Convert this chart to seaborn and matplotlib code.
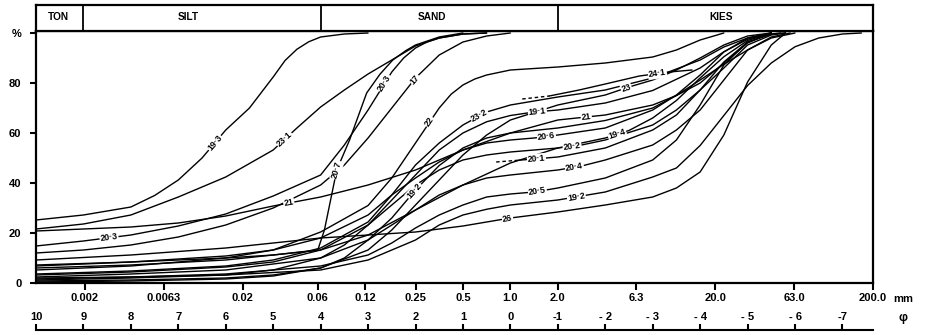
import numpy as np
import pandas as pd
import matplotlib
matplotlib.use("Agg")
import matplotlib.pyplot as plt
import seaborn as sns

# ---- grain-size distribution curves: size in phi units, cumulative percent ----
phi_19_3 = [10, 9, 8, 7.5, 7, 6.5, 6, 5.5, 5, 4.75, 4.5, 4.25, 4, 3.5, 3]
pct_19_3 = [25.2, 27.2, 30.4, 35, 41.2, 50, 61.2, 70, 82.4, 89, 93.5, 96.5, 98.4, 99.6, 100]

phi_23_1 = [10, 9, 8, 7, 6, 5, 4.5, 4, 3.5, 3, 2.5, 2, 1.5, 1, 0.5]
pct_23_1 = [21.6, 23.6, 27.2, 34.4, 42.4, 53.2, 62, 70.4, 77.2, 83.6, 89.2, 94.8, 98, 99.6, 100]

phi_21 = [10, 9, 8, 7, 6, 5, 4, 3, 2, 1, 0, -1, -2, -3, -3.5, -4, -4.5, -5, -5.5, -6]
pct_21 = [20.8, 21.6, 22.4, 24, 26.8, 30.8, 34.4, 39.2, 45.2, 53.2, 60, 65.2, 67.2, 71.2, 75, 81.2, 87.5, 93.2, 98, 100]

phi_20_3 = [10, 9, 8, 7, 6, 5, 4, 3.5, 3, 2.5, 2.25, 2, 1.75, 1.5, 1, 0.5]
pct_20_3 = [14.8, 16.8, 19.2, 22.8, 27.6, 34.8, 43.2, 55.2, 69.2, 84.4, 90, 94, 96.5, 98, 99.6, 100]

phi_17 = [10, 9, 8, 7, 6, 5, 4, 3.5, 3, 2.5, 2, 1.5, 1, 0.5, 0]
pct_17 = [12, 13.2, 15.2, 18.4, 23.2, 30, 39.2, 47.2, 58, 70, 82, 91.2, 96.4, 98.8, 100]

phi_20_7 = [10, 8, 6, 5, 4.06, 3.92, 3.66, 3.39, 3.03, 2.75, 2.48, 2.2, 2, 1.5, 1]
pct_20_7 = [6.8, 8.4, 10, 11.2, 13.2, 21.2, 45.2, 57.2, 76, 83.5, 89.2, 93, 95.2, 98.4, 100]

phi_22 = [10, 8, 6, 5, 4, 3, 2.5, 2, 1.5, 1.25, 1, 0.75, 0.5, 0, -1, -2, -3, -3.5, -4, -4.5]
pct_22 = [5.2, 6.8, 10, 13.2, 20.4, 31, 42, 56, 70, 75.5, 79.2, 81.6, 83.2, 85.2, 86.4, 88, 90.4, 93.2, 97.2, 100]

phi_23_2 = [10, 8, 6, 5, 4, 3, 2.5, 2, 1.5, 1, 0.5, 0, -1, -2, -3, -4, -4.5, -5, -5.5]
pct_23_2 = [3.6, 4.8, 6.8, 9.2, 14, 24.4, 35.2, 47.2, 56, 63.2, 68.4, 71.2, 74.4, 77.2, 82, 89.2, 94.4, 98, 100]

phi_19_1 = [10, 8, 6, 5, 4, 3.5, 3, 2.5, 2, 1.5, 1, 0.5, 0, -0.5, -1, -2, -3, -4, -4.5, -5, -5.5]
pct_19_1 = [1.2, 2, 3.2, 5.2, 10, 15.2, 23.2, 33.2, 43.2, 53.2, 60, 64.5, 67, 68.4, 69.2, 72, 77, 86, 92.5, 97.5, 100]

phi_20_6 = [10, 8, 6, 5, 4, 3, 2.5, 2, 1.5, 1, 0.5, 0, -0.5, -1, -2, -3, -3.5, -4, -4.5, -5, -5.5]
pct_20_6 = [7.2, 8.4, 10.8, 13.2, 18, 27.2, 35.2, 42, 48.4, 53.2, 56, 57.2, 58, 59.2, 62, 69.2, 75.2, 83.2, 92.4, 98, 100]

phi_19_4 = [10, 8, 6, 4, 3, 2, 1, 0, -1, -1.5, -2, -2.5, -3, -3.5, -4, -4.5, -5, -5.5]
pct_19_4 = [6, 7.2, 9.2, 13.2, 19.2, 29.2, 39.2, 48, 54, 56, 58, 61, 66, 73, 82, 90.5, 97, 100]

phi_20_2 = [10, 8, 6, 5, 4, 3, 2.5, 2, 1.5, 1, 0.5, 0, -1, -1.5, -2, -3, -3.5, -4, -4.5, -5, -5.5, -5.8]
pct_20_2 = [3.2, 4.4, 6.4, 8.4, 13.2, 23.2, 31.2, 39.2, 45.2, 49.2, 51.2, 52.4, 54, 55.2, 57.2, 63.2, 69.2, 77.2, 86, 95.2, 99.2, 100]

phi_20_1 = [-0.1, -0.5, -1, -2, -3, -3.5, -4, -4.5, -5, -5.5, -5.8]
pct_20_1 = [49, 49.6, 50.4, 54, 61.2, 67.2, 77.2, 88.4, 96.4, 99.6, 100]
phi_20_1_dash = [0.3, -0.1]
pct_20_1_dash = [48.4, 49]

phi_20_4 = [10, 8, 6, 4, 3, 2.5, 2, 1.5, 1, 0.5, 0, -1, -1.5, -2, -3, -3.5, -4, -4.5, -5, -5.5, -5.9]
pct_20_4 = [2.4, 3.6, 5.2, 10, 17.2, 23.2, 29.2, 35.2, 39.2, 42, 43.2, 45.2, 46.8, 49.2, 55.2, 61.2, 69.2, 81.2, 93.2, 98.4, 100]

phi_20_5 = [10, 8, 6, 4, 3, 2.5, 2, 1.5, 1, 0.5, 0, -0.5, -1, -2, -3, -3.5, -4, -4.5, -5, -5.5, -5.7]
pct_20_5 = [1.6, 2.4, 3.6, 6.8, 11.2, 16, 22, 27.2, 31.2, 34.4, 35.6, 36.4, 38, 42, 49.2, 57.2, 71.2, 87.2, 96.4, 99.6, 100]

phi_19_2a = [10, 8, 6, 5, 4, 3.5, 3, 2.5, 2, 1.5, 1, 0.5, 0, -1, -2, -3, -4, -4.5, -5, -5.5]
pct_19_2a = [0.8, 1.2, 2, 3.2, 6, 10, 17.2, 26, 37.2, 47, 54, 58, 60, 62, 65, 70, 80, 88, 96, 100]

phi_19_2b = [10, 8, 6, 4, 3, 2, 1.5, 1, 0.5, 0, -1, -2, -3, -3.5, -4, -4.5, -5, -5.5, -6, -6.5, -7, -7.4]
pct_19_2b = [2, 2.4, 3.2, 5.2, 9.2, 17.2, 23.2, 27.2, 29.5, 31.2, 33.2, 36.4, 42.4, 46, 55, 67, 79, 88, 94.5, 98, 99.6, 100]

phi_26 = [10, 8, 6, 5, 4, 3, 2, 1, 0.5, 0, -1, -2, -3, -3.5, -4, -4.5, -5, -5.5, -5.8]
pct_26 = [9.2, 11.2, 14, 16, 18, 19.2, 20.4, 22.8, 24.4, 26, 28.4, 31.2, 34.4, 38, 44.4, 59.2, 80.4, 95.2, 100]

phi_23 = [10, 8, 6, 5, 4, 3, 2.5, 2, 1.5, 1, 0.5, 0, -1, -2, -2.5, -3, -3.5, -4, -4.5, -5, -5.5]
pct_23 = [0.4, 0.8, 1.6, 2.8, 6, 13.2, 21.2, 31.2, 41.2, 51.2, 59.2, 65.2, 71.2, 75.2, 78.4, 81.2, 85.2, 90, 95.2, 98.8, 100]

phi_24_1 = [-0.82, -1.45, -2, -2.72, -3.35, -3.83]
pct_24_1 = [74.8, 77.2, 79.6, 82.8, 84.4, 85.2]
phi_24_1_dash = [-0.25, -0.82]
pct_24_1_dash = [73.6, 74.8]

# sample id -> (phi, percent)
solid_curves = {
    "19·3": (phi_19_3, pct_19_3), "23·1": (phi_23_1, pct_23_1),
    "21": (phi_21, pct_21), "20·3": (phi_20_3, pct_20_3),
    "17": (phi_17, pct_17), "20·7": (phi_20_7, pct_20_7),
    "22": (phi_22, pct_22), "23·2": (phi_23_2, pct_23_2),
    "19·1": (phi_19_1, pct_19_1), "20·6": (phi_20_6, pct_20_6),
    "19·4": (phi_19_4, pct_19_4), "20·2": (phi_20_2, pct_20_2),
    "20·1": (phi_20_1, pct_20_1), "20·4": (phi_20_4, pct_20_4),
    "20·5": (phi_20_5, pct_20_5), "19·2a": (phi_19_2a, pct_19_2a),
    "19·2b": (phi_19_2b, pct_19_2b), "26": (phi_26, pct_26),
    "23": (phi_23, pct_23), "24·1": (phi_24_1, pct_24_1),
}
dashed_curves = {
    "20·1": (phi_20_1_dash, pct_20_1_dash),
    "24·1": (phi_24_1_dash, pct_24_1_dash),
}

# curve labels: sample, text, phi position
label_sample = ["19·3", "23·1", "20·3", "20·3", "21", "21", "17", "20·7", "22", "23·2",
                "19·1", "20·6", "20·2", "19·4", "20·1", "20·4", "20·5", "19·2b", "19·2a",
                "26", "23", "24·1"]
label_text = ["19·3", "23·1", "20·3", "20·3", "21", "21", "17", "20·7", "22", "23·2",
              "19·1", "20·6", "20·2", "19·4", "20·1", "20·4", "20·5", "19·2", "19·2",
              "26", "23", "24·1"]
label_phi = [6.23, 4.76, 8.46, 2.65, 4.67, -1.6, 2.02, 3.66, 1.7, 0.65,
             -0.57, -0.76, -1.3, -2.25, -0.55, -1.35, -0.57, -1.39, 2.02,
             0.06, -2.44, -3.1]

# axis scales
mm_ticks = [0.002, 0.0063, 0.02, 0.06, 0.12, 0.25, 0.5, 1.0, 2.0, 6.3, 20.0, 63.0, 200.0]
mm_labels = ["0.002", "0.0063", "0.02", "0.06", "0.12", "0.25", "0.5", "1.0", "2.0",
             "6.3", "20.0", "63.0", "200.0"]
phi_ticks = [10, 9, 8, 7, 6, 5, 4, 3, 2, 1, 0, -1, -2, -3, -4, -5, -6, -7]
phi_labels = ["10", "9", "8", "7", "6", "5", "4", "3", "2", "1", "0",
              "-1", "- 2", "- 3", "- 4", "- 5", "- 6", "-7"]
pct_ticks = [0, 20, 40, 60, 80, 100]
pct_labels = ["0", "20", "40", "60", "80", "%"]

# size classes for the header band (phi boundaries)
class_names = ["TON", "SILT", "SAND", "KIES"]
class_bounds_phi = [9, 4, -1]

# ---------------------------------------------------------------------------
def to_frame(curves):
    rows = []
    for name, (ph, pc) in curves.items():
        for p, v in zip(ph, pc):
            rows.append({"sample": name, "mm": 2.0 ** (-p), "pct": v})
    return pd.DataFrame(rows)

solid_df = to_frame(solid_curves)
dash_df = to_frame(dashed_curves)

sns.set_theme(style="white")
plt.rcParams["font.family"] = ["Liberation Sans", "DejaVu Sans"]
plt.rcParams["font.weight"] = "bold"

W, H = 926, 335
fig = plt.figure(figsize=(W / 100, H / 100), dpi=100)

X0, X1 = 36, 873
Y_BOT, Y_TOP = 283, 31
ax = fig.add_axes([X0 / W, (H - Y_BOT) / H, (X1 - X0) / W, (Y_BOT - Y_TOP) / H])
ax.set_xscale("log")
XMIN, XMAX = 2.0 ** -10, 200.0
ax.set_xlim(XMIN, XMAX)
ax.set_ylim(0, 100.8)

sns.lineplot(data=solid_df, x="mm", y="pct", units="sample", estimator=None,
             sort=False, color="black", linewidth=1.0, ax=ax, legend=False)
sns.lineplot(data=dash_df, x="mm", y="pct", units="sample", estimator=None,
             sort=False, color="black", linewidth=1.0, ax=ax, legend=False,
             linestyle=(0, (2.5, 2)))

for s in ax.spines.values():
    s.set_visible(True)
    s.set_color("black")
    s.set_linewidth(1.6)

ax.set_xticks(mm_ticks)
ax.set_xticklabels(mm_labels)
ax.xaxis.set_minor_locator(matplotlib.ticker.NullLocator())
ax.set_yticks(pct_ticks)
ax.set_yticklabels(pct_labels)
ax.tick_params(axis="x", which="major", bottom=True, top=False, direction="out",
               length=5, width=1.5, pad=2.5, labelsize=8, colors="black")
ax.tick_params(axis="y", which="major", left=True, right=False, direction="out",
               length=4.5, width=1.5, pad=6, labelsize=8, colors="black")
for t in ax.get_xticklabels() + ax.get_yticklabels():
    t.set_fontweight("bold")
ax.set_xlabel("")
ax.set_ylabel("")

# curve labels placed along the lines
def value_at(name, p0):
    ph, pc = solid_curves[name]
    ph = np.asarray(ph, float)
    pc = np.asarray(pc, float)
    order = np.argsort(ph)
    return np.interp(p0, ph[order], pc[order])

for name, txt, p0 in zip(label_sample, label_text, label_phi):
    y0 = value_at(name, p0)
    a = ax.transData.transform((2.0 ** -(p0 + 0.12), value_at(name, p0 + 0.12)))
    b = ax.transData.transform((2.0 ** -(p0 - 0.12), value_at(name, p0 - 0.12)))
    ang = np.degrees(np.arctan2(b[1] - a[1], b[0] - a[0]))
    ax.text(2.0 ** -p0, y0, txt, rotation=ang, rotation_mode="anchor",
            ha="center", va="center", fontsize=6.3, fontweight="bold",
            color="black", zorder=6,
            bbox=dict(boxstyle="square,pad=0.08", fc="white", ec="none"))

# header band with the size classes
hdr = fig.add_axes([X0 / W, (H - Y_TOP) / H, (X1 - X0) / W, 26 / H])
hdr.set_xscale("log")
hdr.set_xlim(XMIN, XMAX)
hdr.set_ylim(0, 1)
hdr.set_xticks([])
hdr.set_yticks([])
hdr.xaxis.set_minor_locator(matplotlib.ticker.NullLocator())
hdr.set_facecolor("white")
for s in hdr.spines.values():
    s.set_visible(True)
    s.set_color("black")
    s.set_linewidth(1.6)
for b in class_bounds_phi:
    hdr.axvline(2.0 ** -b, color="black", linewidth=1.3)
class_text_phi = [9.52, 6.8, 1.66, -4.44]
for name, p in zip(class_names, class_text_phi):
    hdr.text(2.0 ** -p, 0.52, name, ha="center", va="center",
             fontsize=7.3, fontweight="bold", color="black")

# phi scale below the millimetre scale
PHI_Y = 330
phx = fig.add_axes([X0 / W, (H - PHI_Y) / H, (X1 - X0) / W, 0.0001])
phx.set_xlim(10, -np.log2(200.0))
phx.set_ylim(0, 1)
phx.patch.set_visible(False)
for side in ("left", "right", "bottom"):
    phx.spines[side].set_visible(False)
phx.spines["top"].set_linewidth(1.5)
phx.spines["top"].set_color("black")
phx.set_yticks([])
phx.xaxis.tick_top()
phx.set_xticks(phi_ticks)
phx.set_xticklabels(phi_labels)
phx.tick_params(axis="x", top=True, bottom=False, direction="out", length=4,
                width=1.5, pad=2, labelsize=8, colors="black")
for t in phx.get_xticklabels():
    t.set_fontweight("bold")

fig.text(893 / W, 1 - 299 / H, "mm", ha="left", va="center", fontsize=8,
         fontweight="bold", color="black")
fig.text(903 / W, 1 - 318 / H, "φ", ha="center", va="center", fontsize=9,
         fontweight="bold", color="black")

fig.savefig("out.png", dpi=100, facecolor="white")
